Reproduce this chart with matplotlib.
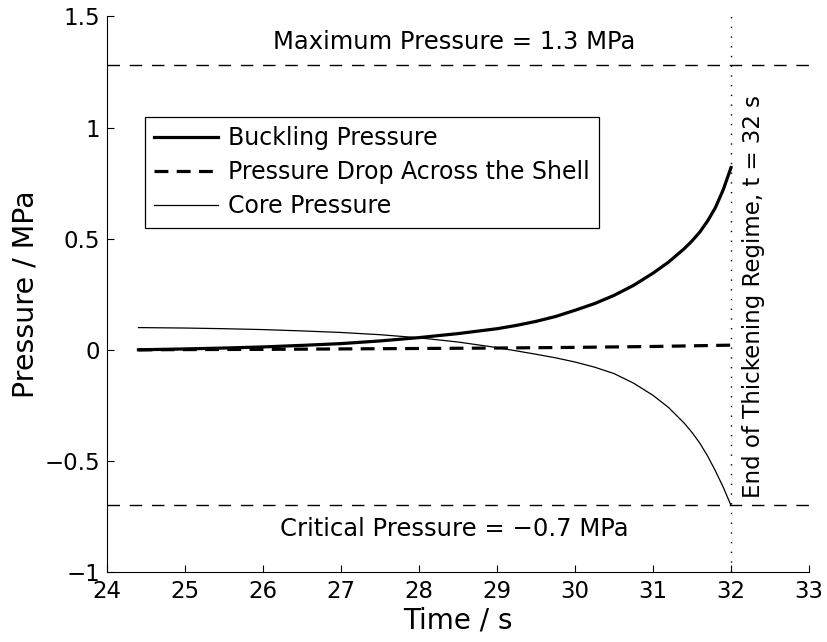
import matplotlib

matplotlib.use("Agg")
import matplotlib.pyplot as plt

plt.rcParams["font.family"] = "DejaVu Sans"
plt.rcParams["lines.scale_dashes"] = False

# Shell thickening regime: pressures vs time
t_buckling = [24.4, 25.0, 25.5, 26.0, 26.5, 27.0, 27.5, 28.0, 28.5, 29.0, 29.25, 29.5, 29.75,
              30.0, 30.25, 30.5, 30.75, 31.0, 31.2, 31.4, 31.5, 31.6, 31.7, 31.8, 31.9, 32.0]
p_buckling = [0.000, 0.004, 0.008, 0.013, 0.020, 0.028, 0.040, 0.055, 0.073, 0.095, 0.110, 0.128, 0.150,
              0.178, 0.208, 0.245, 0.290, 0.345, 0.395, 0.455, 0.490, 0.530, 0.580, 0.640, 0.720, 0.820]

t_drop = [24.4, 25.0, 26.0, 27.0, 28.0, 29.0, 30.0, 31.0, 31.5, 32.0]
p_drop = [0.000, 0.001, 0.002, 0.004, 0.006, 0.008, 0.011, 0.015, 0.018, 0.021]

t_core = [24.4, 25.0, 25.5, 26.0, 26.5, 27.0, 27.5, 28.0, 28.5, 29.0, 29.5, 29.75, 30.0, 30.25,
          30.5, 30.75, 31.0, 31.2, 31.4, 31.5, 31.6, 31.7, 31.8, 31.9, 32.0]
p_core = [0.100, 0.098, 0.095, 0.091, 0.085, 0.078, 0.068, 0.054, 0.035, 0.010, -0.020, -0.036, -0.055, -0.078,
          -0.107, -0.150, -0.205, -0.260, -0.330, -0.372, -0.420, -0.478, -0.545, -0.618, -0.700]

p_max = 1.28
p_critical = -0.70
t_end = 32

x_ticks = list(range(24, 34))
y_ticks = [-1, -0.5, 0, 0.5, 1, 1.5]
y_ticklabels = ["\u22121", "\u22120.5", "0", "0.5", "1", "1.5"]

fig = plt.figure(figsize=(8.27, 6.42), dpi=100)
ax = fig.add_axes([0.1297, 0.109, 0.8485, 0.8653])

ax.plot(t_buckling, p_buckling, color="black", lw=2.3, label="Buckling Pressure")
ax.plot(t_drop, p_drop, color="black", lw=2.3, dashes=(10, 6),
        label="Pressure Drop Across the Shell")
ax.plot(t_core, p_core, color="black", lw=0.9, label="Core Pressure")

ax.axhline(p_max, color="black", lw=1.0, dashes=(9, 7))
ax.axhline(p_critical, color="black", lw=1.0, dashes=(9, 7))
ax.axvline(t_end, color="black", lw=1.0, dashes=(1, 6))

ax.text(28.45, 1.385, "Maximum Pressure = 1.3 MPa", ha="center", va="center", fontsize=17.5)
ax.text(28.45, -0.805, "Critical Pressure = \u22120.7 MPa", ha="center", va="center", fontsize=17.5)
ax.text(32.14, -0.665, "End of Thickening Regime, t = 32 s", rotation=90,
        ha="left", va="bottom", fontsize=16.5)

ax.set_xlim(24, 33)
ax.set_ylim(-1, 1.5)
ax.set_xticks(x_ticks)
ax.set_yticks(y_ticks)
ax.set_yticklabels(y_ticklabels)
ax.tick_params(direction="in", length=5, width=0.8, labelsize=16.5, pad=5)
ax.tick_params(axis="x", pad=6)
for side in ("top", "right"):
    ax.spines[side].set_visible(False)
for side in ("left", "bottom"):
    ax.spines[side].set_linewidth(0.8)

ax.set_xlabel("Time / s", fontsize=20, labelpad=2)
ax.set_ylabel("Pressure / MPa", fontsize=20.5, labelpad=4)

leg = ax.legend(loc="upper left", bbox_to_anchor=(0.0537, 0.819), fontsize=17,
                frameon=True, fancybox=False, framealpha=1, edgecolor="black",
                handlelength=2.7, handletextpad=0.4, labelspacing=0.42,
                borderpad=0.4, borderaxespad=0)
leg.get_frame().set_linewidth(0.9)

fig.savefig("out.png", dpi=100)
